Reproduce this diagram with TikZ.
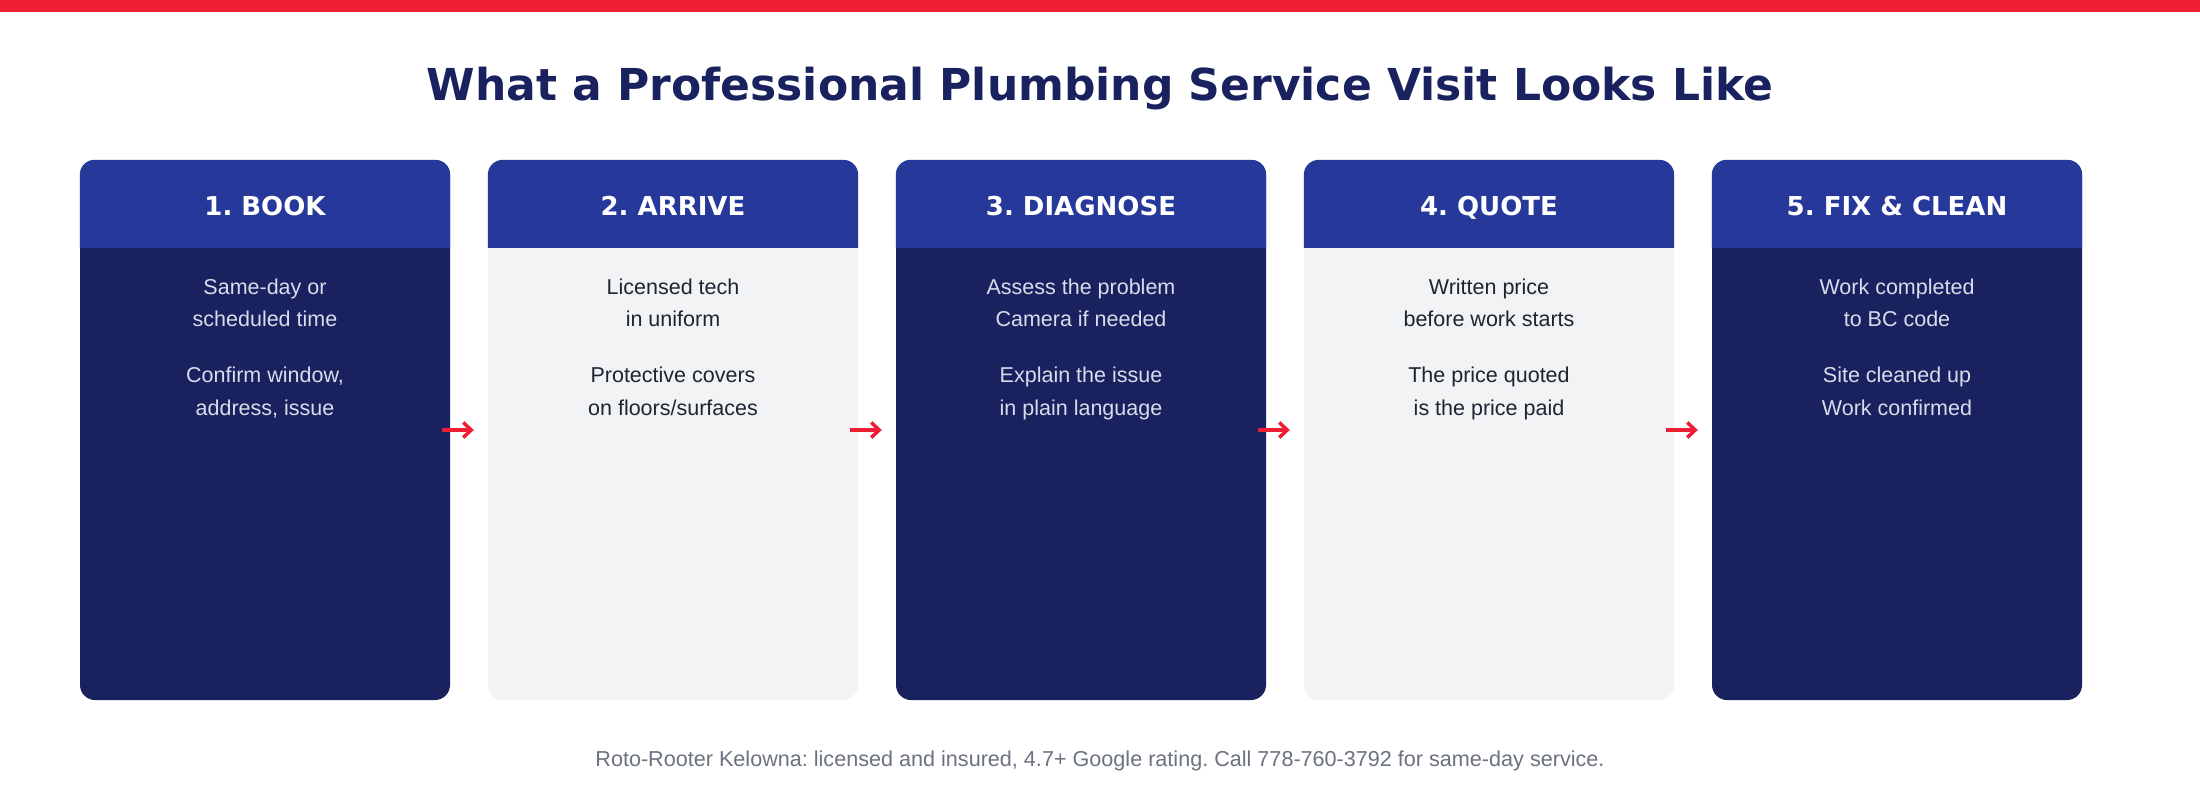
\documentclass[tikz,border=0pt]{standalone}
\usepackage{fontspec}
\setmainfont{Liberation Sans}
\newfontfamily\headfont{DejaVu Sans}
\usetikzlibrary{arrows.meta}

\definecolor{brandred}{HTML}{EE1E35}
\definecolor{navy}{HTML}{19225E}
\definecolor{hdrblue}{HTML}{263899}
\definecolor{panel}{HTML}{F2F3F5}
\definecolor{lighttxt}{HTML}{D8DCEB}
\definecolor{darktxt}{HTML}{1F2433}
\definecolor{foot}{HTML}{6B7280}

\begin{document}
\frenchspacing
\begin{tikzpicture}[x=1pt,y=-1pt,
  titletxt/.style={inner sep=0pt, text=navy, font=\headfont\bfseries\fontsize{44}{54}\selectfont},
  cardbox/.style={draw=none, inner sep=0pt, minimum width=370pt, minimum height=540pt, rounded corners=15pt},
  hdrtxt/.style={inner sep=0pt, text=white, font=\headfont\bfseries\fontsize{26}{30}\selectfont},
  bodytxt/.style={inner sep=0pt, font=\fontsize{21.5}{26}\selectfont},
  foottxt/.style={inner sep=0pt, text=foot, font=\fontsize{21.6}{26}\selectfont},
  flow/.style={draw=brandred, line width=3.5pt, -{Straight Barb[length=8pt,width=15pt]}}
]
\useasboundingbox (0,0) rectangle (2200,800);
\fill[white] (0,0) rectangle (2200,800);

% top accent bar
\fill[brandred] (0,0) rectangle (2200,12);

% heading
\node[titletxt, anchor=base] (title) at (1100,100) {What a Professional Plumbing Service Visit Looks Like};

% the five step cards
\foreach \i/\name/\bg/\fg/\la/\lb/\lc/\ld in {
  1/{1. BOOK}/navy/lighttxt/{Same-day or}/{scheduled time}/{Confirm window,}/{address, issue},
  2/{2. ARRIVE}/panel/darktxt/{Licensed tech}/{in uniform}/{Protective covers}/{on floors/surfaces},
  3/{3. DIAGNOSE}/navy/lighttxt/{Assess the problem}/{Camera if needed}/{Explain the issue}/{in plain language},
  4/{4. QUOTE}/panel/darktxt/{Written price}/{before work starts}/{The price quoted}/{is the price paid},
  5/{5. FIX \& CLEAN}/navy/lighttxt/{Work completed}/{to BC code}/{Site cleaned up}/{Work confirmed}}
{
  \node[cardbox, fill=\bg] (c\i) at ({265+408*(\i-1)},430) {};
  \fill[hdrblue] ([yshift=-88pt]c\i.north west) [rounded corners=15pt] -- (c\i.north west) -- (c\i.north east) [sharp corners] -- ([yshift=-88pt]c\i.north east) -- cycle;
  \node[hdrtxt, anchor=base] (h\i) at ([yshift=-56pt]c\i.north) {\name};
  \node[bodytxt, text=\fg, anchor=base] (t\i-a) at ([yshift=-135pt]c\i.north) {\la};
  \node[bodytxt, text=\fg, anchor=base] (t\i-b) at ([yshift=-167pt]c\i.north) {\lb};
  \node[bodytxt, text=\fg, anchor=base] (t\i-c) at ([yshift=-223pt]c\i.north) {\lc};
  \node[bodytxt, text=\fg, anchor=base] (t\i-d) at ([yshift=-256pt]c\i.north) {\ld};
}

% arrows between consecutive steps
\foreach \i/\j in {1/2,2/3,3/4,4/5}
  \draw[flow] ([xshift=-8pt]c\i.east) -- ([xshift=-14pt]c\j.west);

% footnote
\node[foottxt, anchor=base] (note) at (1100,766) {Roto-Rooter Kelowna: licensed and insured, 4.7+ Google rating. Call 778-760-3792 for same-day service.};
\end{tikzpicture}
\end{document}
